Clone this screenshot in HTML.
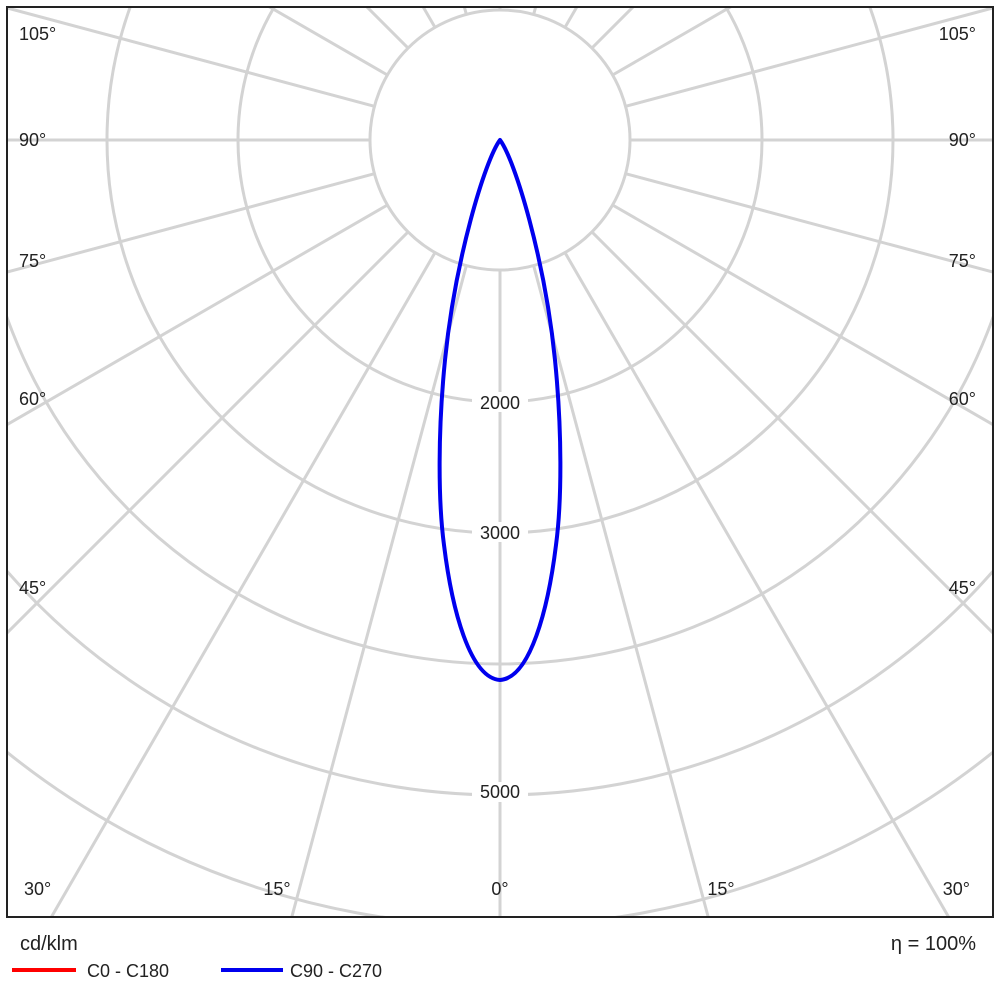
<!DOCTYPE html>
<html><head><style>
html,body{margin:0;padding:0;background:#fff;overflow:hidden;width:1000px;height:1000px;}
svg{display:block;}
svg text{font-family:"Liberation Sans",sans-serif;fill:#222;}
</style></head><body>
<svg width="1000" height="1000" viewBox="0 0 1000 1000" xmlns="http://www.w3.org/2000/svg">
<defs><clipPath id="c"><rect x="7" y="7" width="986" height="910"/></clipPath></defs>
<rect width="1000" height="1000" fill="#fff"/>
<g clip-path="url(#c)" stroke="#d3d3d3" stroke-width="3" fill="none">
<circle cx="500" cy="140" r="130"/>
<circle cx="500" cy="140" r="262"/>
<circle cx="500" cy="140" r="393"/>
<circle cx="500" cy="140" r="524"/>
<circle cx="500" cy="140" r="655"/>
<circle cx="500" cy="140" r="786"/>
<line x1="500" y1="270" x2="500" y2="1400"/>
<line x1="500" y1="270" x2="500" y2="1400" transform="rotate(15 500 140)"/>
<line x1="500" y1="270" x2="500" y2="1400" transform="rotate(30 500 140)"/>
<line x1="500" y1="270" x2="500" y2="1400" transform="rotate(45 500 140)"/>
<line x1="500" y1="270" x2="500" y2="1400" transform="rotate(60 500 140)"/>
<line x1="500" y1="270" x2="500" y2="1400" transform="rotate(75 500 140)"/>
<line x1="500" y1="270" x2="500" y2="1400" transform="rotate(90 500 140)"/>
<line x1="500" y1="270" x2="500" y2="1400" transform="rotate(105 500 140)"/>
<line x1="500" y1="270" x2="500" y2="1400" transform="rotate(120 500 140)"/>
<line x1="500" y1="270" x2="500" y2="1400" transform="rotate(135 500 140)"/>
<line x1="500" y1="270" x2="500" y2="1400" transform="rotate(150 500 140)"/>
<line x1="500" y1="270" x2="500" y2="1400" transform="rotate(165 500 140)"/>
<line x1="500" y1="270" x2="500" y2="1400" transform="rotate(180 500 140)"/>
<line x1="500" y1="270" x2="500" y2="1400" transform="rotate(-15 500 140)"/>
<line x1="500" y1="270" x2="500" y2="1400" transform="rotate(-30 500 140)"/>
<line x1="500" y1="270" x2="500" y2="1400" transform="rotate(-45 500 140)"/>
<line x1="500" y1="270" x2="500" y2="1400" transform="rotate(-60 500 140)"/>
<line x1="500" y1="270" x2="500" y2="1400" transform="rotate(-75 500 140)"/>
<line x1="500" y1="270" x2="500" y2="1400" transform="rotate(-90 500 140)"/>
<line x1="500" y1="270" x2="500" y2="1400" transform="rotate(-105 500 140)"/>
<line x1="500" y1="270" x2="500" y2="1400" transform="rotate(-120 500 140)"/>
<line x1="500" y1="270" x2="500" y2="1400" transform="rotate(-135 500 140)"/>
<line x1="500" y1="270" x2="500" y2="1400" transform="rotate(-150 500 140)"/>
<line x1="500" y1="270" x2="500" y2="1400" transform="rotate(-165 500 140)"/>
</g>
<g font-size="18" text-anchor="middle">
<rect x="472" y="392" width="56" height="20" fill="#fff"/>
<text x="500" y="409">2000</text>
<rect x="472" y="522" width="56" height="20" fill="#fff"/>
<text x="500" y="539">3000</text>
<rect x="472" y="782" width="56" height="20" fill="#fff"/>
<text x="500" y="798">5000</text>
</g>
<path d="M500,140 C515,160 545,260 555,360 C562,430 562,500 556,545 C548,610 530,678 500,680 C470,678 452,610 444,545 C438,500 438,430 445,360 C455,260 485,160 500,140 Z" fill="none" stroke="#0000ee" stroke-width="4" stroke-linejoin="round"/>
<g font-size="18">
<text x="19" y="40">105°</text><text x="19" y="146">90°</text><text x="19" y="267">75°</text><text x="19" y="405">60°</text><text x="19" y="594">45°</text><text x="24" y="895">30°</text>
<text x="976" y="40" text-anchor="end">105°</text><text x="976" y="146" text-anchor="end">90°</text><text x="976" y="267" text-anchor="end">75°</text><text x="976" y="405" text-anchor="end">60°</text><text x="976" y="594" text-anchor="end">45°</text><text x="970" y="895" text-anchor="end">30°</text>
<text x="277" y="895" text-anchor="middle">15°</text><text x="500" y="895" text-anchor="middle">0°</text><text x="721" y="895" text-anchor="middle">15°</text>
</g>
<rect x="7" y="7" width="986" height="910" fill="none" stroke="#222" stroke-width="2"/>
<text x="20" y="950" font-size="20">cd/klm</text>
<text x="976" y="950" font-size="20" text-anchor="end">η = 100%</text>
<line x1="12" y1="970" x2="76" y2="970" stroke="#ff0000" stroke-width="4"/>
<text x="87" y="977" font-size="18">C0 - C180</text>
<line x1="221" y1="970" x2="283" y2="970" stroke="#0000ee" stroke-width="4"/>
<text x="290" y="977" font-size="18">C90 - C270</text>
</svg>
</body></html>
